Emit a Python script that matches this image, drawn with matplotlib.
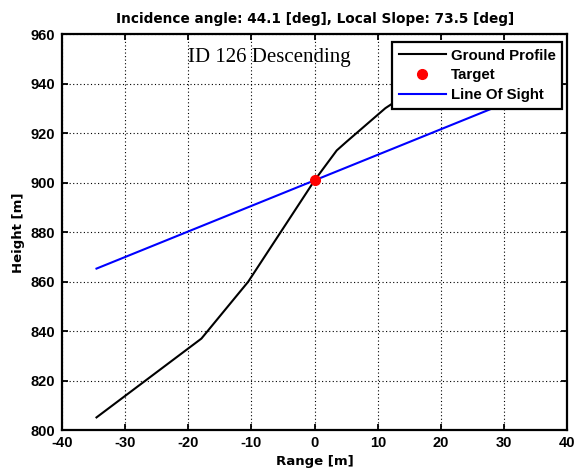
import matplotlib.pyplot as plt

plt.rcParams["axes.unicode_minus"] = False

# ── Data ─────────────────────────────────────────────────────────────────────
ground_x = [-34.5, -17.9, -10.5, 0.0, 3.5, 5.0, 11.2, 20.0]
ground_y = [805.1, 837.0, 860.0, 901.0, 913.1, 916.5, 930.2, 945.0]

target_x = [0.0]
target_y = [901.0]

los_x = [-34.5, 0.0, 34.5]
los_y = [865.3, 901.0, 936.7]

x_ticks = [-40, -30, -20, -10, 0, 10, 20, 30, 40]
y_ticks = [800, 820, 840, 860, 880, 900, 920, 940, 960]

# ── Style ────────────────────────────────────────────────────────────────────
TICKFONT = "Liberation Sans"
LABELFONT = "DejaVu Sans"
SERIF = "Liberation Serif"

fig = plt.figure(figsize=(5.79, 4.71), dpi=100)
ax = fig.add_axes([0.1066, 0.087, 0.8735, 0.8398])

ax.plot(ground_x, ground_y, color="black", lw=1.5, label="Ground Profile", zorder=3)
ax.plot(target_x, target_y, "o", color="red", ms=7, label="Target", zorder=5)
ax.plot(los_x, los_y, color="blue", lw=1.5, label="Line Of Sight", zorder=4)

ax.set_xlim(-40, 40)
ax.set_ylim(800, 960)
ax.set_xticks(x_ticks)
ax.set_yticks(y_ticks)
ax.grid(True, color="black", ls=(0, (1, 2.2)), lw=0.8)
ax.tick_params(direction="in", top=True, right=True, length=4, width=1.3)
ax.tick_params(axis="x", pad=4)
ax.tick_params(axis="y", pad=5)
for lab in ax.get_xticklabels() + ax.get_yticklabels():
    lab.set_fontfamily(TICKFONT)
    lab.set_fontweight("bold")
    lab.set_fontsize(10.5)
for s in ax.spines.values():
    s.set_linewidth(1.6)

ax.set_xlabel("Range [m]", fontfamily=LABELFONT, fontweight="bold", fontsize=9.5, labelpad=4)
ax.set_ylabel("Height [m]", fontfamily=LABELFONT, fontweight="bold", fontsize=9.5, labelpad=4)
ax.set_title("Incidence angle: 44.1 [deg], Local Slope: 73.5 [deg]",
             fontfamily=LABELFONT, fontweight="bold", fontsize=9.8, pad=8)

ax.text(-20, 950.5, "ID 126 Descending", fontfamily=SERIF, fontsize=15,
        ha="left", va="center")

leg = ax.legend(loc="upper right", bbox_to_anchor=(0.990, 0.981),
                borderaxespad=0, fancybox=False, framealpha=1,
                edgecolor="black", handlelength=3.1, handletextpad=0.35,
                prop={"family": TICKFONT, "weight": "bold", "size": 10.8},
                labelspacing=0.37, borderpad=0.45)
leg.get_frame().set_linewidth(1.6)
leg.set_zorder(10)

fig.savefig("out.png", dpi=100)
